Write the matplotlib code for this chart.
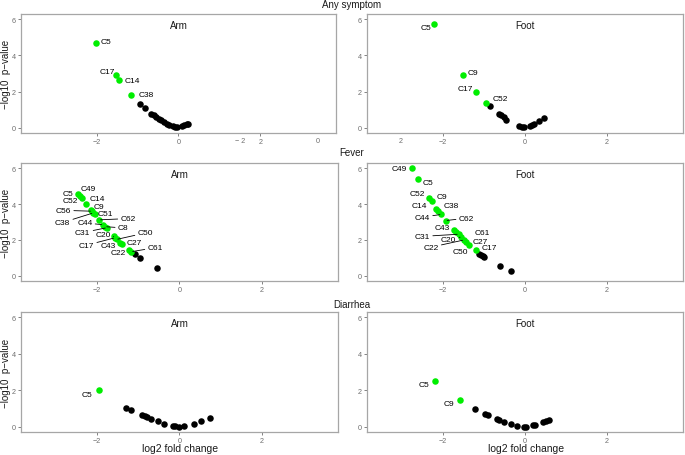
import matplotlib
matplotlib.use("Agg")
import matplotlib.pyplot as plt

plt.rcParams['font.family'] = ['Liberation Sans', 'DejaVu Sans']

# ---------------- data ----------------
row_titles = ["Any symptom", "Fever", "Diarrhea"]
col_titles = ["Arm", "Foot"]
x_ticks = [-2, 0, 2]
y_ticks = [0, 2, 4, 6]

# Any symptom - Arm
any_arm_sig_names = ["C5", "C17", "C14", "C38"]
any_arm_sig_x = [-2.01, -1.53, -1.45, -1.15]
any_arm_sig_y = [4.66, 2.89, 2.65, 1.81]
any_arm_ns_x = [-0.93, -0.81, -0.66, -0.60, -0.55, -0.48, -0.42, -0.35, -0.28, -0.22,
                -0.14, -0.08, -0.04, 0.08, 0.14, 0.20, 0.24]
any_arm_ns_y = [1.32, 1.08, 0.79, 0.69, 0.60, 0.51, 0.42, 0.33, 0.24, 0.16,
                0.11, 0.07, 0.05, 0.11, 0.15, 0.20, 0.24]

# Any symptom - Foot
any_foot_sig_names = ["C5", "C9", "C17", "C52"]
any_foot_sig_x = [-2.21, -1.50, -1.20, -0.95]
any_foot_sig_y = [5.72, 2.93, 1.99, 1.39]
any_foot_ns_x = [-0.86, -0.64, -0.58, -0.51, -0.46, -0.14, -0.07, -0.03, 0.11, 0.17, 0.23, 0.35, 0.47]
any_foot_ns_y = [1.22, 0.79, 0.69, 0.58, 0.44, 0.12, 0.06, 0.03, 0.13, 0.18, 0.24, 0.38, 0.55]

# Fever - Arm
fev_arm_sig_names = ["C5", "C49", "C52", "C14", "C9", "C56", "C38", "C51", "C62", "C44",
                     "C8", "C31", "C20", "C17", "C50", "C43", "C27", "C22", "C61"]
fev_arm_sig_x = [-2.46, -2.41, -2.37, -2.26, -2.16, -2.13, -2.10, -2.06, -1.95, -1.86,
                 -1.80, -1.77, -1.60, -1.57, -1.53, -1.45, -1.40, -1.22, -1.17]
fev_arm_sig_y = [4.58, 4.47, 4.35, 3.98, 3.68, 3.60, 3.50, 3.42, 3.12, 2.85,
                 2.74, 2.68, 2.20, 2.12, 2.03, 1.86, 1.78, 1.42, 1.35]
fev_arm_ns_x = [-1.09, -0.97, -0.54]
fev_arm_ns_y = [1.21, 0.99, 0.42]

# Fever - Foot
fev_foot_sig_names = ["C49", "C5", "C52", "C9", "C14", "C38", "C44", "C62", "C43", "C61",
                      "C31", "C20", "C22", "C27", "C50", "C17"]
fev_foot_sig_x = [-2.75, -2.60, -2.33, -2.27, -2.17, -2.12, -2.04, -1.93, -1.74, -1.67,
                  -1.62, -1.55, -1.49, -1.44, -1.37, -1.20]
fev_foot_sig_y = [6.00, 5.38, 4.35, 4.15, 3.75, 3.62, 3.42, 3.08, 2.58, 2.42,
                  2.32, 2.17, 2.00, 1.90, 1.74, 1.43]
fev_foot_ns_x = [-1.11, -1.07, -1.03, -0.99, -0.61, -0.34]
fev_foot_ns_y = [1.24, 1.17, 1.11, 1.06, 0.55, 0.27]

# Diarrhea - Arm
dia_arm_sig_names = ["C5"]
dia_arm_sig_x = [-1.96]
dia_arm_sig_y = [2.00]
dia_arm_ns_x = [-1.31, -1.19, -0.91, -0.85, -0.78, -0.69, -0.53, -0.38, -0.16, -0.10,
                -0.02, 0.12, 0.36, 0.52, 0.73]
dia_arm_ns_y = [1.04, 0.91, 0.63, 0.57, 0.52, 0.44, 0.30, 0.17, 0.06, 0.04,
                0.00, 0.06, 0.17, 0.30, 0.46]

# Diarrhea - Foot
dia_foot_sig_names = ["C5", "C9"]
dia_foot_sig_x = [-2.20, -1.58]
dia_foot_sig_y = [2.52, 1.48]
dia_foot_ns_x = [-1.22, -0.98, -0.91, -0.69, -0.63, -0.51, -0.34, -0.20, -0.03, 0.02,
                 0.19, 0.24, 0.45, 0.51, 0.58]
dia_foot_ns_y = [0.98, 0.72, 0.65, 0.44, 0.39, 0.28, 0.17, 0.07, 0.00, 0.00,
                 0.09, 0.13, 0.28, 0.33, 0.39]

# ---------------- label placement (layout only) ----------------
lab_any_arm = {"C5": (-1.76, 4.79), "C17": (-1.75, 3.11), "C14": (-1.13, 2.60), "C38": (-0.80, 1.83)}
lab_any_foot = {"C5": (-2.42, 5.54), "C9": (-1.26, 3.07), "C17": (-1.46, 2.16), "C52": (-0.60, 1.61)}
lab_fev_arm = {"C49": (-2.22, 4.88), "C5": (-2.72, 4.57), "C52": (-2.66, 4.20), "C14": (-2.00, 4.33),
               "C9": (-1.95, 3.87), "C56": (-2.82, 3.65), "C51": (-1.79, 3.46), "C38": (-2.84, 2.97),
               "C44": (-2.30, 2.95), "C62": (-1.25, 3.19), "C8": (-1.37, 2.67), "C31": (-2.35, 2.41),
               "C20": (-1.86, 2.32), "C50": (-0.83, 2.39), "C17": (-2.26, 1.71), "C27": (-1.11, 1.86),
               "C43": (-1.74, 1.71), "C22": (-1.48, 1.31), "C61": (-0.59, 1.57)}
lab_fev_foot = {"C49": (-3.07, 6.00), "C5": (-2.36, 5.19), "C52": (-2.62, 4.59), "C9": (-2.02, 4.40),
                "C14": (-2.58, 3.89), "C38": (-1.80, 3.91), "C44": (-2.50, 3.27), "C62": (-1.43, 3.21),
                "C43": (-2.02, 2.70), "C61": (-1.04, 2.39), "C31": (-2.50, 2.20), "C20": (-1.86, 2.02),
                "C27": (-1.09, 1.93), "C22": (-2.29, 1.60), "C50": (-1.57, 1.38), "C17": (-0.87, 1.60)}
lab_dia_arm = {"C5": (-2.24, 1.78)}
lab_dia_foot = {"C5": (-2.47, 2.33), "C9": (-1.85, 1.28)}

seg_fev_arm = {"C56", "C38", "C44", "C62", "C31", "C20", "C50", "C17", "C61", "C8"}
seg_fev_foot = {"C44", "C62", "C31", "C20", "C22"}

panels = [
    (any_arm_sig_names, any_arm_sig_x, any_arm_sig_y, any_arm_ns_x, any_arm_ns_y, lab_any_arm, set()),
    (any_foot_sig_names, any_foot_sig_x, any_foot_sig_y, any_foot_ns_x, any_foot_ns_y, lab_any_foot, set()),
    (fev_arm_sig_names, fev_arm_sig_x, fev_arm_sig_y, fev_arm_ns_x, fev_arm_ns_y, lab_fev_arm, seg_fev_arm),
    (fev_foot_sig_names, fev_foot_sig_x, fev_foot_sig_y, fev_foot_ns_x, fev_foot_ns_y, lab_fev_foot, seg_fev_foot),
    (dia_arm_sig_names, dia_arm_sig_x, dia_arm_sig_y, dia_arm_ns_x, dia_arm_ns_y, lab_dia_arm, set()),
    (dia_foot_sig_names, dia_foot_sig_x, dia_foot_sig_y, dia_foot_ns_x, dia_foot_ns_y, lab_dia_foot, set()),
]

# ---------------- figure ----------------
W, H = 685, 456
fig = plt.figure(figsize=(W / 100, H / 100), dpi=100)

# axes rectangles in pixels (left, top, right, bottom)
rects = [(21, 15, 336, 134), (367, 15, 683, 134),
         (21, 164, 338, 282), (367, 164, 683, 282),
         (21, 313, 338, 433), (367, 313, 683, 433)]

spine_col = "#a6a6a6"
tick_col = "#6e6e6e"
text_col = "#1a1a1a"
green = "#00ee00"

for i, (l, t, r, b) in enumerate(rects):
    ax = fig.add_axes([l / W, 1 - b / H, (r - l) / W, (b - t) / H])
    names, sx, sy, nx, ny, labpos, segs = panels[i]
    ax.scatter(nx, ny, s=22, color="black", linewidths=0, zorder=3)
    ax.scatter(sx, sy, s=22, color=green, linewidths=0, zorder=4)
    for name, px, py in zip(names, sx, sy):
        tx, ty = labpos[name]
        if name in segs:
            ax.annotate(name, xy=(px, py), xytext=(tx, ty), fontsize=6, color="black",
                        ha="center", va="center", zorder=5,
                        arrowprops=dict(arrowstyle="-", lw=0.6, color="black",
                                        shrinkA=0, shrinkB=1))
        else:
            ax.text(tx, ty, name, fontsize=6, color="black", ha="center", va="center", zorder=5)
    ax.set_xlim(-3.85, 3.85)
    ax.set_ylim(-0.28, 6.28)
    ax.set_xticks(x_ticks)
    ax.set_yticks(y_ticks)
    ax.tick_params(axis="both", colors=tick_col, labelcolor=tick_col, labelsize=5.2,
                   length=2.2, width=0.6, pad=1.5)
    for sp in ax.spines.values():
        sp.set_color(spine_col)
        sp.set_linewidth(0.9)
    ax.text(0.5, 0.905, col_titles[i % 2], transform=ax.transAxes, ha="center", va="center",
            fontsize=7, color=text_col)
    cx = (l + r) / 2
    if i % 2 == 0:
        fig.text(6 / W, 1 - ((t + b) / 2) / H, "\u2212log10  p\u2212value", rotation=90,
                 ha="center", va="center", fontsize=7, color=text_col)
    if i >= 4:
        fig.text((180 if i == 4 else 526) / W, 1 - 449 / H, "log2 fold change",
                 ha="center", va="center", fontsize=7.5, color=text_col)

# row titles
for title, yp in zip(row_titles, [5, 153, 305]):
    fig.text(352 / W, 1 - yp / H, title, ha="center", va="center", fontsize=7, color=text_col)

# stray tick-label artefacts in the top row of the original
for txt, xp in [("\u2212 2", 240), ("0", 318), ("2", 401)]:
    fig.text(xp / W, 1 - 142 / H, txt, ha="center", va="center", fontsize=5.2, color=tick_col)

fig.savefig("out.png", dpi=100)
